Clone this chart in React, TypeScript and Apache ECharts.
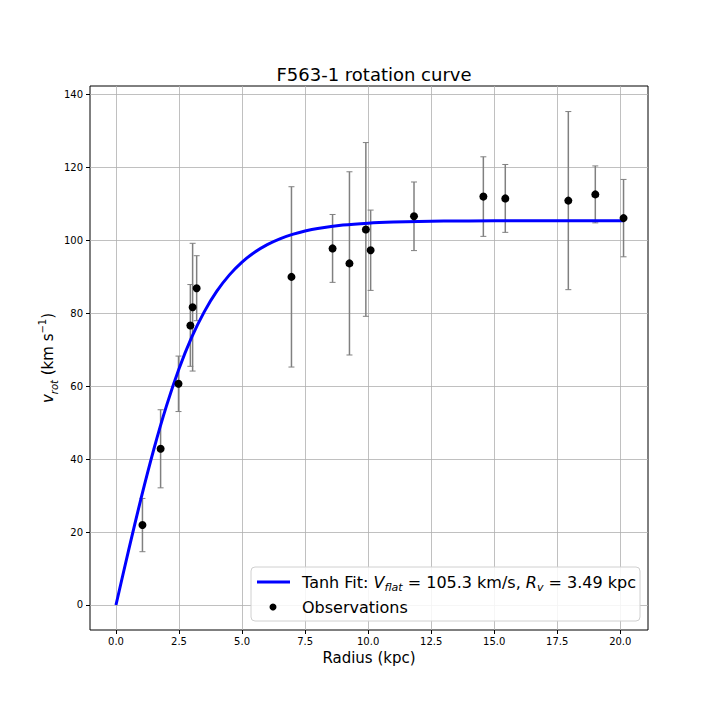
import { useEffect, useRef } from 'react';
import * as echarts from 'echarts';

// observations
const radius = [1.05, 1.77, 2.48, 2.95, 3.04, 3.2, 6.96, 8.59, 9.26, 9.91, 10.1, 11.82, 14.57, 15.44, 17.94, 19.01, 20.13];
const velocity = [21.9, 42.8, 60.6, 76.6, 81.6, 86.8, 89.9, 97.7, 93.6, 102.9, 97.2, 106.5, 111.9, 111.4, 110.8, 112.5, 106.0];
const velocityErr = [7.3, 10.7, 7.6, 11.2, 17.5, 8.9, 24.7, 9.3, 25.1, 23.8, 11.0, 9.4, 10.9, 9.3, 24.4, 7.8, 10.6];

// fitted curve, sampled along the radius
const fitRadius = [0, 0.5, 1, 1.5, 2, 2.5, 3, 3.5, 4, 4.5, 5, 5.5, 6, 6.5, 7, 7.5, 8, 9, 10, 11, 12, 13, 14, 16, 18, 20.13];
const fitVelocity = [0, 14.98, 29.37, 42.66, 54.5, 64.72, 73.3, 80.32, 85.98, 90.45, 93.95, 96.66, 98.75, 100.34, 101.55, 102.48, 103.17, 104.09, 104.62, 104.92, 105.08, 105.18, 105.23, 105.28, 105.29, 105.3];

const xTicks = [0, 2.5, 5, 7.5, 10, 12.5, 15, 17.5, 20];
const yTicks = [0, 20, 40, 60, 80, 100, 120, 140];

const FONT = 'DejaVu Sans';

export default function App() {
  const chartRef = useRef<HTMLDivElement>(null);

  useEffect(() => {
    if (!chartRef.current) return;
    const chart = echarts.init(chartRef.current, undefined, { renderer: 'svg' });

    const option: echarts.EChartsOption = {
      animation: false,
      backgroundColor: '#ffffff',
      textStyle: { fontFamily: FONT },
      title: {
        text: 'F563-1 rotation curve',
        left: 369,
        top: 60,
        textAlign: 'center',
        textStyle: { fontFamily: FONT, fontSize: 18, fontWeight: 'normal', color: '#000' },
      },
      grid: {
        left: 90,
        right: 72,
        top: 86,
        bottom: 90,
        show: true,
        borderColor: '#000',
        borderWidth: 1,
        backgroundColor: 'transparent',
      },
      xAxis: {
        type: 'value',
        min: -1.03,
        max: 21.1,
        name: 'Radius (kpc)',
        nameLocation: 'middle',
        nameGap: 20,
        nameTextStyle: { fontFamily: FONT, fontSize: 15, color: '#000' },
        axisLine: { show: false, onZero: false },
        axisTick: { show: true, inside: false, customValues: xTicks, length: 4, lineStyle: { color: '#000' } },
        axisLabel: {
          customValues: xTicks,
          color: '#000',
          fontFamily: FONT,
          fontSize: 10,
          margin: 6,
          formatter: (v: number) => v.toFixed(1),
        },
        splitLine: { show: true, lineStyle: { color: '#b0b0b0', width: 0.8 } },
      },
      yAxis: {
        type: 'value',
        min: -6.85,
        max: 142.2,
        name: '{i|v}{s|rot}{n| (km s}{p|−1}{n|)}',
        nameLocation: 'middle',
        nameGap: 31,
        nameMoveOverlap: false,
        nameRotate: 90,
        nameTextStyle: {
          fontFamily: FONT,
          fontSize: 15,
          color: '#000',
          rich: {
            i: { fontFamily: FONT, fontSize: 15, fontStyle: 'italic', lineHeight: 22, color: '#000' },
            s: { fontFamily: FONT, fontSize: 10, fontStyle: 'italic', verticalAlign: 'bottom', color: '#000' },
            n: { fontFamily: FONT, fontSize: 15, lineHeight: 22, color: '#000' },
            p: { fontFamily: FONT, fontSize: 10, verticalAlign: 'top', color: '#000' },
          },
        },
        axisLine: { show: false, onZero: false },
        axisTick: { show: true, inside: false, customValues: yTicks, length: 4, lineStyle: { color: '#000' } },
        axisLabel: {
          customValues: yTicks,
          color: '#000',
          fontFamily: FONT,
          fontSize: 10,
          margin: 7,
        },
        splitLine: { show: true, lineStyle: { color: '#b0b0b0', width: 0.8 } },
      } as any,
      series: [
        {
          name: 'errors',
          type: 'custom',
          z: 2,
          data: radius.map((r, i) => [r, velocity[i] - velocityErr[i], velocity[i] + velocityErr[i]]),
          renderItem: (_params: any, api: any) => {
            const lo = api.coord([api.value(0), api.value(1)]);
            const hi = api.coord([api.value(0), api.value(2)]);
            const cap = 3;
            const style = { stroke: '#808080', lineWidth: 1.5 };
            return {
              type: 'group',
              children: [
                { type: 'line', shape: { x1: lo[0], y1: lo[1], x2: hi[0], y2: hi[1] }, style },
                { type: 'line', shape: { x1: lo[0] - cap, y1: lo[1], x2: lo[0] + cap, y2: lo[1] }, style: { stroke: '#808080', lineWidth: 1 } },
                { type: 'line', shape: { x1: hi[0] - cap, y1: hi[1], x2: hi[0] + cap, y2: hi[1] }, style: { stroke: '#808080', lineWidth: 1 } },
              ],
            };
          },
          encode: { x: 0, y: [1, 2] },
        },
        {
          name: 'Tanh Fit',
          type: 'line',
          z: 3,
          smooth: 0.3,
          symbol: 'none',
          lineStyle: { color: '#0000ff', width: 3 },
          data: fitRadius.map((r, i) => [r, fitVelocity[i]]),
        },
        {
          name: 'Observations',
          type: 'scatter',
          z: 4,
          symbol: 'circle',
          symbolSize: 8,
          itemStyle: { color: '#000', opacity: 1 },
          data: radius.map((r, i) => [r, velocity[i]]),
        },
      ],
      graphic: [
        {
          type: 'rect',
          z: 100,
          shape: { x: 251, y: 567, width: 389, height: 54, r: 4 },
          style: { fill: 'rgba(255,255,255,0.85)', stroke: '#d0d0d0', lineWidth: 1 },
        },
        {
          type: 'line',
          z: 101,
          shape: { x1: 257, y1: 582, x2: 290, y2: 582 },
          style: { stroke: '#0000ff', lineWidth: 3 },
        },
        {
          type: 'circle',
          z: 101,
          shape: { cx: 273, cy: 607, r: 3.5 },
          style: { fill: '#000' },
        },
        {
          type: 'text',
          z: 101,
          x: 302,
          y: 582,
          style: {
            text: '{n|Tanh Fit: }{i|V}{s|flat}{n| = 105.3 km/s, }{i|R}{s|v}{n| = 3.49 kpc}',
            verticalAlign: 'middle',
            fontFamily: FONT,
            fontSize: 16,
            fill: '#000',
            rich: {
              n: { fontFamily: FONT, fontSize: 16, lineHeight: 22, fill: '#000' },
              i: { fontFamily: FONT, fontSize: 16, fontStyle: 'italic', lineHeight: 22, fill: '#000' },
              s: { fontFamily: FONT, fontSize: 11, fontStyle: 'italic', verticalAlign: 'bottom', fill: '#000' },
            },
          } as any,
        },
        {
          type: 'text',
          z: 101,
          x: 302,
          y: 607,
          style: {
            text: 'Observations',
            verticalAlign: 'middle',
            fontFamily: FONT,
            fontSize: 16,
            fill: '#000',
          },
        },
      ],
    };

    chart.setOption(option);

    return () => {
      chart.dispose();
    };
  }, []);

  return (
    <div
      ref={chartRef}
      style={{ position: 'fixed', left: 0, top: 0, width: 720, height: 720 }}
    />
  );
}
